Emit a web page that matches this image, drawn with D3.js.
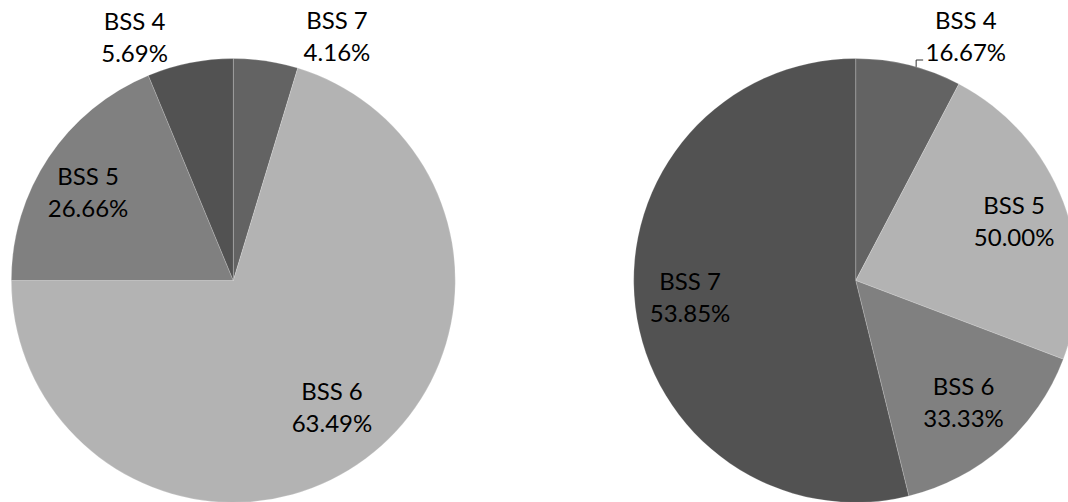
<!DOCTYPE html>
<html>
<head>
<meta charset="utf-8">
<script src="https://d3js.org/d3.v7.min.js"></script>
<style>
  body { margin: 0; background: #fff; }
  svg { display: block; }
</style>
</head>
<body>
<svg width="1068" height="502"></svg>
<script>
  // Left pie (slice order clockwise from 12 o'clock)
  const leftCategories = ['BSS 7', 'BSS 6', 'BSS 5', 'BSS 4'];
  const leftValues = [3, 45, 12, 4];
  const leftLabels = ['4.16%', '63.49%', '26.66%', '5.69%'];

  // Right pie
  const rightCategories = ['BSS 4', 'BSS 5', 'BSS 6', 'BSS 7'];
  const rightValues = [1, 3, 2, 7];
  const rightLabels = ['16.67%', '50.00%', '33.33%', '53.85%'];

  // colours go by slice index, as in the original
  const sliceColors = ['#636363', '#b3b3b3', '#808080', '#525252'];

  const svg = d3.select('svg');
  const R = 222;
  const font = 'Lato, "Open Sans", sans-serif';

  const pie = d3.pie().sort(null).value(d => d.value);
  const arc = d3.arc().innerRadius(0).outerRadius(R);

  function polar(angleDeg, r) {
    const a = angleDeg * Math.PI / 180;
    return [Math.sin(a) * r, -Math.cos(a) * r];
  }

  // label placement per slice: [angle in degrees, radius factor] ("best fit")
  function drawPie(cx, cy, cats, vals, labels, place, leader) {
    const g = svg.append('g').attr('transform', `translate(${cx},${cy})`);
    const data = cats.map((c, i) => ({ cat: c, value: vals[i], label: labels[i] }));
    const arcs = pie(data);

    g.selectAll('path.slice')
      .data(arcs)
      .join('path')
      .attr('class', 'slice')
      .attr('d', arc)
      .style('fill', d => sliceColors[d.index])
      .style('stroke', '#ffffff')
      .style('stroke-opacity', 0.25)
      .style('stroke-width', 0.8);

    const txt = g.selectAll('text.lbl')
      .data(arcs)
      .join('text')
      .attr('class', 'lbl')
      .attr('text-anchor', 'middle')
      .style('font-family', font)
      .style('font-size', '24px')
      .style('fill', '#000')
      .attr('transform', d => {
        const p = polar(place[d.index][0], R * place[d.index][1]);
        return `translate(${p[0]},${p[1]})`;
      });

    txt.append('tspan').attr('x', 0).attr('y', -16).text(d => d.data.cat);
    txt.append('tspan').attr('x', 0).attr('y', 16).text(d => d.data.label);

    if (leader) {
      // little bent leader from the pie edge up to the label
      const e = polar(leader[0], R);
      const topY = leader[1] - cy;
      g.append('path')
        .attr('d', `M${e[0]},${e[1]}V${topY}h${leader[2]}`)
        .style('fill', 'none')
        .style('stroke', '#333')
        .style('stroke-width', 1);
    }
  }

  drawPie(233.3, 280.5, leftCategories, leftValues, leftLabels,
    [[23.8, 1.157], [144, 0.756], [298.7, 0.746], [337.2, 1.148]], null);

  drawPie(855.7, 280.5, rightCategories, rightValues, rightLabels,
    [[25.1, 1.169], [72.3, 0.749], [140.4, 0.762], [261.2, 0.755]], [15.8, 60, 7]);
</script>
</body>
</html>
